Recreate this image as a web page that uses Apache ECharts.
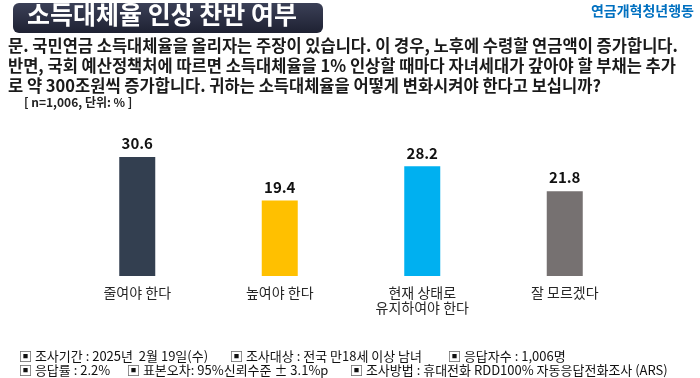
<!DOCTYPE html>
<html>
<head>
<meta charset="utf-8">
<script src="https://cdn.jsdelivr.net/npm/echarts@6/dist/echarts.min.js"></script>
<style>
  html, body { margin: 0; padding: 0; background: #fff; }
  #survey-chart { width: 700px; height: 378px; }
</style>
</head>
<body>
<div id="survey-chart"></div>
<script>
var categories = ["줄여야 한다", "높여야 한다", "현재 상태로\n유지하여야 한다", "잘 모르겠다"];
var values = [30.6, 19.4, 28.2, 21.8];
var barColors = ["#333f50", "#ffc000", "#00b0f0", "#767171"];

var titleText = "소득대체율 인상 찬반 여부";
var sourceText = "연금개혁청년행동";
var questionLines = [
  "문. 국민연금 소득대체율을 올리자는 주장이 있습니다. 이 경우, 노후에 수령할 연금액이 증가합니다.",
  "반면, 국회 예산정책처에 따르면 소득대체율을 1% 인상할 때마다 자녀세대가 갚아야 할 부채는 추가",
  "로 약 300조원씩 증가합니다. 귀하는 소득대체율을 어떻게 변화시켜야 한다고 보십니까?"
];
var noteText = "[ n=1,006, 단위: % ]";
// footer items: [line, text]
var footerItems = [
  [0, "▣ 조사기간 : 2025년  2월 19일(수)"],
  [0, "▣ 조사대상 : 전국 만18세 이상 남녀"],
  [0, "▣ 응답자수 : 1,006명"],
  [1, "▣ 응답률 : 2.2%"],
  [1, "▣ 표본오차: 95%신뢰수준 ± 3.1%p"],
  [1, "▣ 조사방법 : 휴대전화 RDD100% 자동응답전화조사 (ARS)"]
];
var footerX = [19, 230, 448, 19, 127, 350];

var font = "'Noto Sans CJK KR', 'Noto Sans', sans-serif";

var chart = echarts.init(document.getElementById("survey-chart"));

var graphics = [
  {
    type: "rect",
    shape: { x: 13, y: 3, width: 310, height: 30, r: 6 },
    style: {
      fill: new echarts.graphic.LinearGradient(0, 0, 0, 1, [
        { offset: 0, color: "#3b4057" },
        { offset: 1, color: "#1e2132" }
      ])
    }
  },
  {
    type: "text",
    left: 27, top: 2,
    style: {
      text: titleText,
      fill: "#fff",
      font: "bold 25px " + font
    }
  },
  {
    type: "text",
    right: 6, top: 4,
    style: {
      text: sourceText,
      fill: "#0070c0",
      font: "bold 14px " + font
    }
  },
  {
    type: "text",
    left: 8, top: 36,
    style: {
      text: questionLines.join("\n"),
      fill: "#1a1a1a",
      font: "bold 16.5px " + font,
      lineHeight: 20
    }
  },
  {
    type: "text",
    left: 24, top: 96,
    style: {
      text: noteText,
      fill: "#222",
      font: "bold 12px " + font
    }
  }
];

footerItems.forEach(function (it, i) {
  graphics.push({
    type: "text",
    left: footerX[i],
    top: it[0] === 0 ? 350 : 364,
    style: {
      text: it[1],
      fill: "#111",
      font: "13px " + font
    }
  });
});

var option = {
  animation: false,
  textStyle: { fontFamily: font },
  grid: {
    left: 66,
    width: 570,
    top: 120.4,
    height: 155.6
  },
  xAxis: {
    type: "category",
    data: categories,
    axisLine: { show: false },
    axisTick: { show: false },
    axisLabel: {
      color: "#262626",
      fontSize: 14,
      fontFamily: font,
      margin: 9,
      lineHeight: 15
    }
  },
  yAxis: {
    type: "value",
    min: 0,
    max: 40,
    show: false
  },
  series: [
    {
      type: "bar",
      barWidth: 36,
      data: values.map(function (v, i) {
        return { value: v, itemStyle: { color: barColors[i] } };
      }),
      label: {
        show: true,
        position: "top",
        distance: 6,
        color: "#111",
        fontSize: 15,
        fontWeight: "bold",
        fontFamily: font,
        formatter: function (p) { return p.value.toFixed(1); }
      }
    }
  ],
  graphic: graphics
};

chart.setOption(option);
window.addEventListener("resize", function () {
  chart.resize();
});
</script>
</body>
</html>
